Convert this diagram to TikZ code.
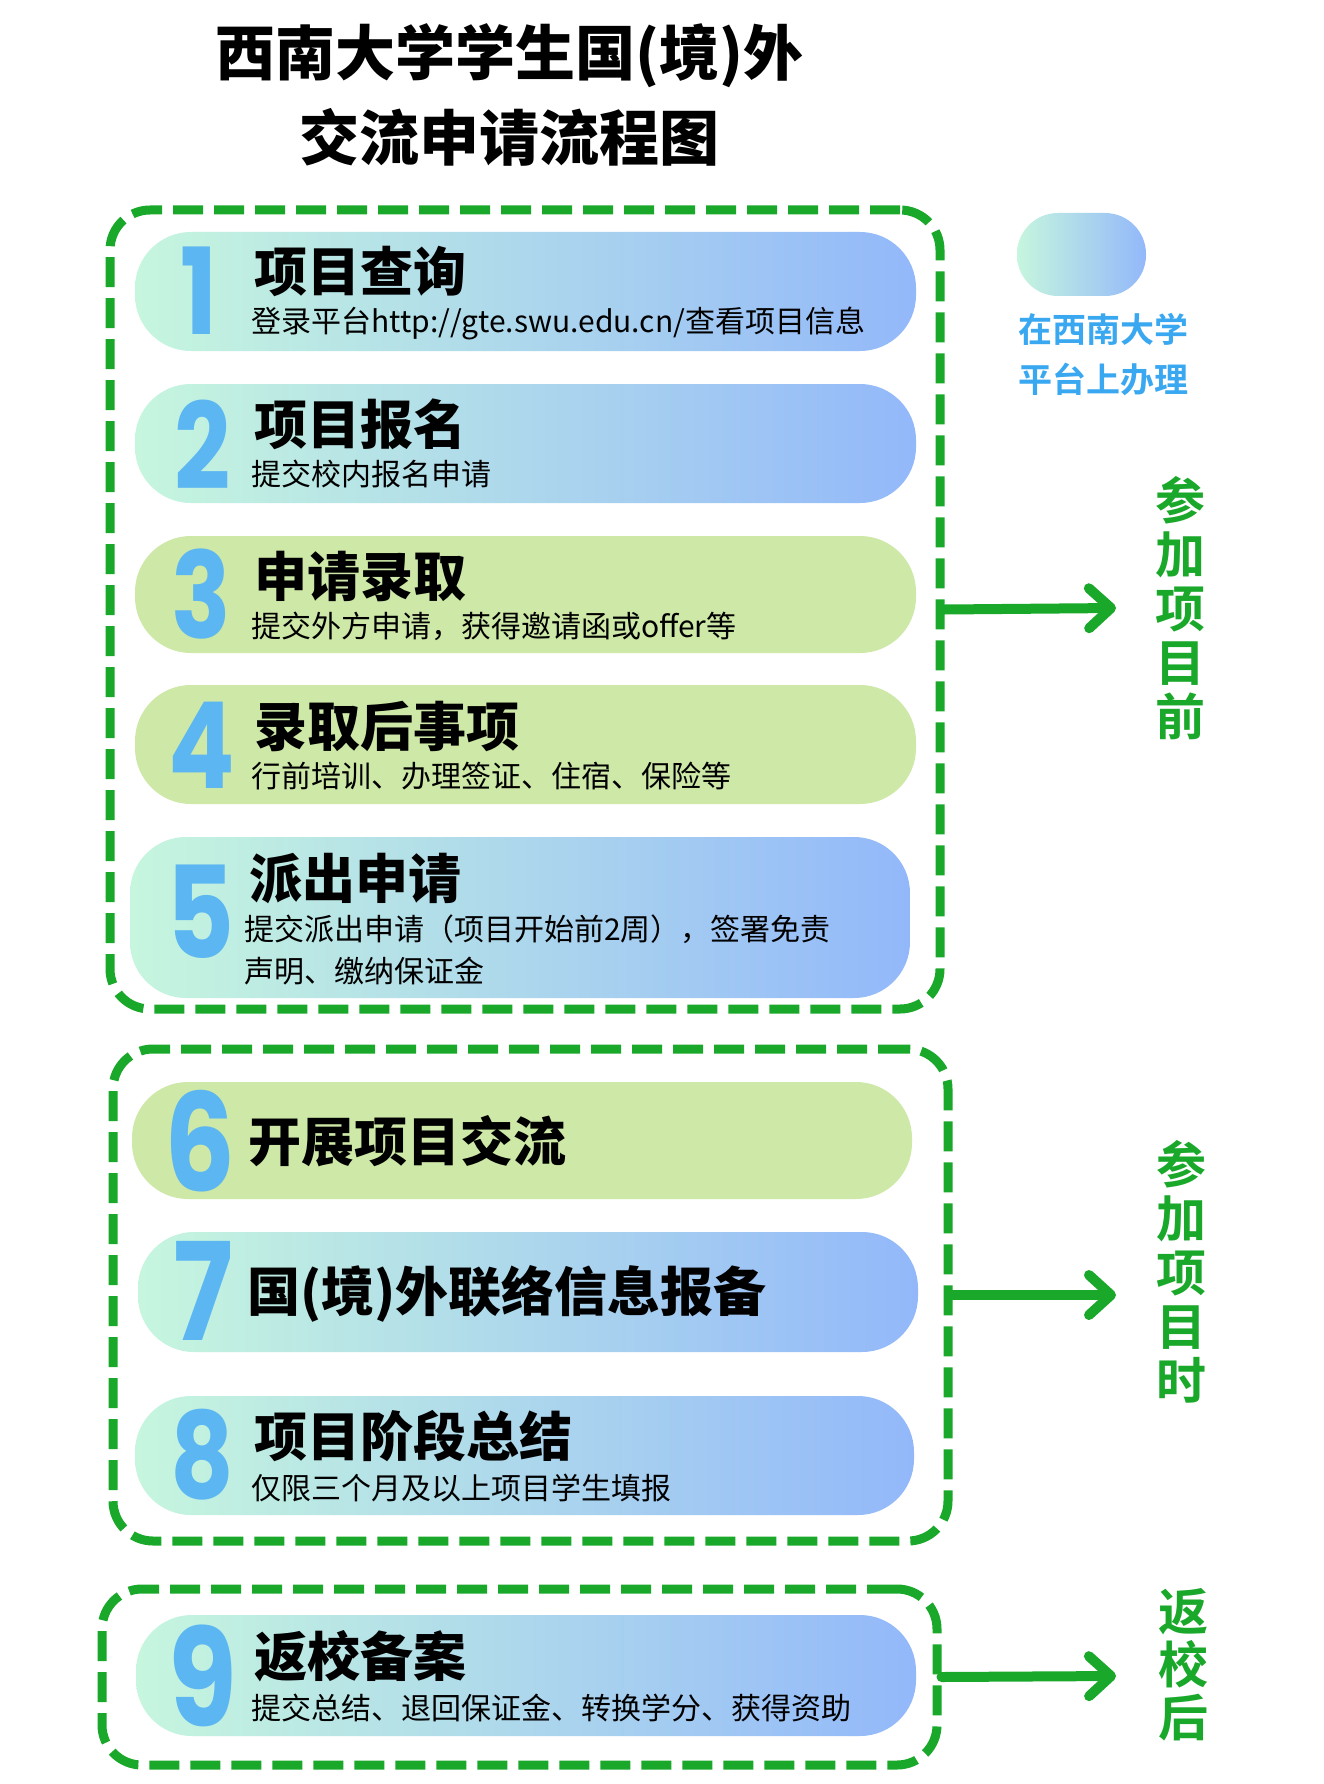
\documentclass[tikz,border=0pt]{standalone}
\usepackage{fontspec}
\setmainfont{Noto Sans CJK SC}[BoldFont={Noto Sans CJK SC Bold}]
\newfontfamily\heavyfont{Noto Sans CJK SC Black}
\newfontfamily\digitfont{Poppins}[FakeStretch=0.82,BoldFeatures={FakeStretch=0.82}]
\usetikzlibrary{arrows.meta}
\definecolor{grn}{RGB}{26,168,43}
\definecolor{mint}{RGB}{198,246,222}
\definecolor{sky}{RGB}{147,184,250}
\definecolor{lgreen}{RGB}{205,232,167}
\definecolor{numblue}{RGB}{92,182,242}
\definecolor{legblue}{RGB}{58,168,240}
\tikzset{
  pillg/.style={left color=mint,right color=sky,rounded corners=56pt,inner sep=0pt,outer sep=0pt},
  pillv/.style={fill=lgreen,rounded corners=56pt,inner sep=0pt,outer sep=0pt},
  grp/.style={draw=grn,line width=9pt,dash pattern=on 30pt off 11pt,rounded corners=40pt,inner sep=0pt},
  ptitle/.style={anchor=west,inner sep=0pt,font=\heavyfont\fontsize{53}{60}\selectfont},
  psub/.style={anchor=west,inner sep=0pt,align=left,font=\fontsize{30}{42}\selectfont},
  digit/.style={inner sep=0pt,text=numblue,font=\digitfont\bfseries\fontsize{120}{120}\selectfont},
  conn/.style={draw=grn,line width=10pt,line cap=round,line join=round,-{Straight Barb[length=22pt,width=40pt,round]}},
  vlabel/.style={text=grn,align=center,inner sep=0pt,font=\bfseries\fontsize{50}{54}\selectfont},
}
\begin{document}
\begin{tikzpicture}[x=1pt,y=-1pt]
\useasboundingbox[fill=white] (0,0) rectangle (1323,1784);

% title
\node[align=center,inner sep=0pt,font=\heavyfont\fontsize{60}{85}\selectfont] (title) at (509,95)
  {西南大学学生国(境)外\\交流申请流程图};

% group boxes
\node[grp,minimum width=830pt,minimum height=799pt] (box1) at (525,609.5) {};
\node[grp,minimum width=835pt,minimum height=492pt] (box2) at (530.5,1295) {};
\node[grp,minimum width=835pt,minimum height=176pt] (box3) at (519.5,1677) {};

% pills
\node[pillg,minimum width=781pt,minimum height=119pt] (p1) at (525.5,291.5) {};
\node[pillg,minimum width=781pt,minimum height=119pt] (p2) at (525.5,443.5) {};
\node[pillv,minimum width=781pt,minimum height=117pt] (p3) at (525.5,594.5) {};
\node[pillv,minimum width=781pt,minimum height=119pt] (p4) at (525.5,744.5) {};
\node[pillg,minimum width=780pt,minimum height=161pt] (p5) at (520,917.5) {};
\node[pillv,minimum width=780pt,minimum height=117pt] (p6) at (522,1140.5) {};
\node[pillg,minimum width=780pt,minimum height=120pt] (p7) at (528,1292) {};
\node[pillg,minimum width=779pt,minimum height=119pt] (p8) at (524.5,1455.5) {};
\node[pillg,minimum width=780pt,minimum height=121pt] (p9) at (526,1675.5) {};

% digits
\node[digit] (d1) at (199,291) {1};
\node[digit] (d2) at (203,445) {2};
\node[digit] (d3) at (201,594) {3};
\node[digit] (d4) at (202,745) {4};
\node[digit,font=\digitfont\bfseries\fontsize{128}{128}\selectfont] (d5) at (201,912) {5};
\node[digit,font=\digitfont\bfseries\fontsize{136}{136}\selectfont] (d6) at (200,1141) {6};
\node[digit,font=\digitfont\bfseries\fontsize{136}{136}\selectfont] (d7) at (203,1291) {7};
\node[digit] (d8) at (202,1455) {8};
\node[digit,font=\digitfont\bfseries\fontsize{136}{136}\selectfont] (d9) at (203,1676) {9};

% step titles
\node[ptitle] (t1) at (254,271) {项目查询};
\node[psub] (s1) at (251,323) {登录平台http://gte.swu.edu.cn/查看项目信息};
\node[ptitle] (t2) at (254,424) {项目报名};
\node[psub] (s2) at (251,474) {提交校内报名申请};
\node[ptitle] (t3) at (254,576) {申请录取};
\node[psub] (s3) at (251,626) {提交外方申请，获得邀请函或offer等};
\node[ptitle] (t4) at (254,726) {录取后事项};
\node[psub] (s4) at (251,776) {行前培训、办理签证、住宿、保险等};
\node[ptitle] (t5) at (249,878) {派出申请};
\node[psub] (s5) at (244,950) {提交派出申请（项目开始前2周），签署免责\\声明、缴纳保证金};
\node[ptitle] (t6) at (248,1141) {开展项目交流};
\node[ptitle] (t7) at (247,1294) {国(境)外联络信息报备};
\node[ptitle] (t8) at (254,1436) {项目阶段总结};
\node[psub] (s8) at (251,1488) {仅限三个月及以上项目学生填报};
\node[ptitle] (t9) at (254,1656) {返校备案};
\node[psub] (s9) at (251,1708) {提交总结、退回保证金、转换学分、获得资助};

% legend
\node[left color=mint,right color=sky,rounded corners=41pt,inner sep=0pt,minimum width=129pt,minimum height=83pt] (leg) at (1081.5,254.5) {};
\node[anchor=west,align=left,inner sep=0pt,text=legblue,font=\bfseries\fontsize{34}{50}\selectfont] (legtext) at (1018,355) {在西南大学\\平台上办理};

% arrows and stage labels
\coordinate (a1) at (1116,608);
\coordinate (a2) at (1116,1295);
\coordinate (a3) at (1116,1676);
\draw[conn] (box1.east) -- (a1);
\draw[conn] (box2.east) -- (a2);
\draw[conn] (box3.east) -- (a3);
\node[vlabel] (l1) at (1180,608) {参\\加\\项\\目\\前};
\node[vlabel] (l2) at (1181,1272) {参\\加\\项\\目\\时};
\node[vlabel,font=\bfseries\fontsize{50}{53}\selectfont] (l3) at (1183,1665) {返\\校\\后};
\end{tikzpicture}
\end{document}
